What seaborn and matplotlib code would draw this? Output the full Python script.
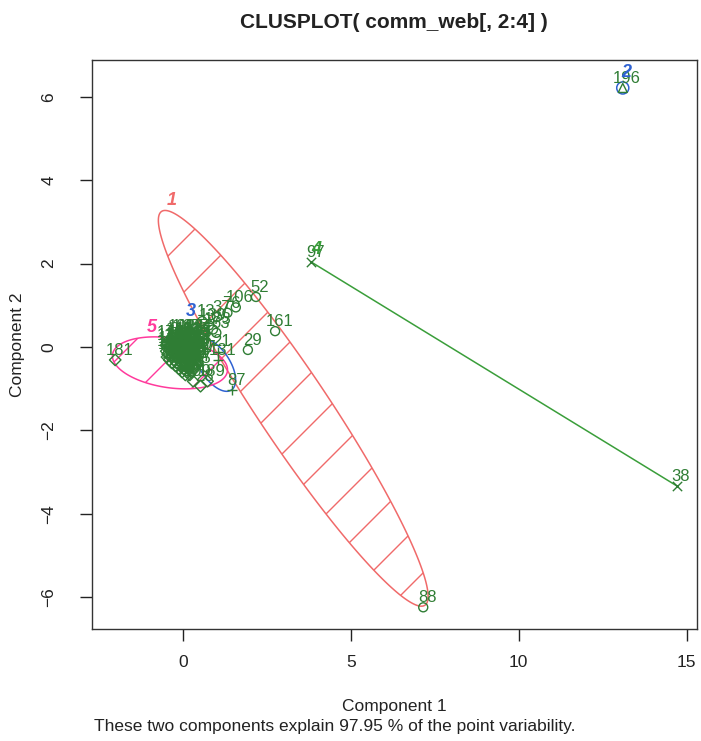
import numpy as np
import pandas as pd
import matplotlib
matplotlib.use('Agg')
import matplotlib.pyplot as plt
from matplotlib.patches import Polygon, Ellipse
import seaborn as sns

# points that stand apart from the central mass (label, comp1, comp2, cluster)
pt_labels = ['196', '97', '38', '88', '181', '52', '161', '29', '87', '21', '131',
             '63', '13', '139', '173', '37', '76', '106', '109', '28', '189']
pt_x = [13.10, 3.82, 14.71, 7.16, -2.01, 2.18, 2.75, 1.94, 1.47, 1.04, 1.06,
        1.00, 0.58, 0.78, 0.90, 1.02, 1.33, 1.58, 0.31, 0.53, 0.74]
pt_y = [6.21, 2.04, -3.33, -6.24, -0.31, 1.20, 0.38, -0.07, -1.03, -0.11, -0.31,
        0.34, 0.62, 0.52, 0.42, 0.72, 0.82, 0.95, -0.82, -0.94, -0.82]
pt_clus = [2, 4, 4, 1, 5, 1, 1, 1, 3, 3, 3,
           1, 1, 1, 1, 1, 1, 1, 5, 5, 5]

# the dense mass around the origin, row by row
blob_y = [0.25, 0.18, 0.11, 0.04, -0.03, -0.10, -0.17, -0.24, -0.31, -0.38,
          -0.45, -0.52, -0.60, -0.67]
blob_x = [
    [-0.30, -0.15, 0.00, 0.12, 0.25, 0.38],
    [-0.40, -0.22, -0.08, 0.05, 0.18, 0.30, 0.44],
    [-0.48, -0.33, -0.19, -0.04, 0.09, 0.21, 0.35, 0.47],
    [-0.50, -0.37, -0.25, -0.12, 0.01, 0.14, 0.27, 0.40],
    [-0.46, -0.31, -0.17, -0.06, 0.07, 0.19, 0.33, 0.45],
    [-0.49, -0.36, -0.22, -0.10, 0.03, 0.16, 0.29, 0.42],
    [-0.45, -0.30, -0.18, -0.05, 0.08, 0.22, 0.36],
    [-0.47, -0.34, -0.20, -0.07, 0.06, 0.19, 0.32, 0.46],
    [-0.40, -0.26, -0.13, 0.00, 0.13, 0.27, 0.40],
    [-0.33, -0.19, -0.05, 0.09, 0.23, 0.37],
    [-0.22, -0.08, 0.06, 0.20, 0.34],
    [-0.12, 0.03, 0.17, 0.31],
    [-0.02, 0.12, 0.26],
    [0.08, 0.21],
]
blob_c = ["555511", "5555111", "55555113", "55555133", "55555533", "55555533",
          "5555553", "55555533", "5555553", "555555", "55555", "5555", "555", "55"]
blob_labels = ("1 102 3 114 5 127 8 140 10 151 12 164 15 170 17 183 19 192 22 105 "
               "24 118 26 130 31 143 33 155 35 166 39 177 41 186 43 194 45 108 47 120 "
               "49 133 51 146 54 158 56 168 58 179 60 190 62 104 65 116 67 125 69 137 "
               "71 149 73 160 75 171 78 184 80 195 82 101 84 122 86 135 89 147 91 157 "
               "93 175 95 180 98 187 99").split()

# cluster labels
clus_names = ['1', '2', '3', '4', '5']
clus_lx = [-0.32, 13.19, 0.25, 3.97, -0.91]
clus_ly = [3.50, 6.59, 0.84, 2.33, 0.46]

# spanning ellipses: centre and two conjugate semi-axes (data units)
ell_clus = [1, 3, 5]
ell_center = [(3.29, -1.47), (0.96, -0.43), (-0.38, -0.38)]
ell_a = [(3.92, -4.72), (0.49, -0.60), (1.71, -0.20)]
ell_b = [(0.87, 0.47), (0.37, 0.20), (-0.10, -0.59)]
ell_shade = [True, False, True]

GREEN = '#2f7d34'
LINE_GREEN = '#3a9e3a'
RED = '#f06a6a'
BLUE = '#2f62d2'
PINK = '#ff3a9c'
clus_color = {1: RED, 2: BLUE, 3: BLUE, 4: LINE_GREEN, 5: PINK}
clus_marker = {1: 'o', 2: '^', 3: '+', 4: 'x', 5: 'D'}

# build one table of all points
bx, by, bc = [], [], []
for yv, xs, cs in zip(blob_y, blob_x, blob_c):
    for xv, cv in zip(xs, cs):
        bx.append(xv)
        by.append(yv)
        bc.append(int(cv))
df = pd.DataFrame({
    'x': pt_x + bx,
    'y': pt_y + by,
    'label': pt_labels + blob_labels,
    'cluster': pt_clus + bc,
})

sns.set_theme(style='ticks')
plt.rcParams['font.family'] = ['Liberation Sans', 'DejaVu Sans']

W, H = 701, 741
fig = plt.figure(figsize=(W / 100, H / 100), dpi=100)
ax = fig.add_axes([91.7 / W, 1 - 629 / H, (697 - 91.7) / W, (629 - 60) / H])
ax.set_xlim(-2.71, 15.31)
ax.set_ylim(-6.76, 6.88)

# ellipses with R-style shading lines
T = ax.transData
t = np.linspace(0, 2 * np.pi, 300)
for c, cen, a, b, shade in zip(ell_clus, ell_center, ell_a, ell_b, ell_shade):
    ex = cen[0] + a[0] * np.cos(t) + b[0] * np.sin(t)
    ey = cen[1] + a[1] * np.cos(t) + b[1] * np.sin(t)
    patch = Polygon(np.column_stack([ex, ey]), closed=True, fill=False,
                    ec=clus_color[c], lw=1.1, zorder=2)
    ax.add_patch(patch)
    if shade:
        disp = T.transform(np.column_stack([ex, ey]))
        s = disp[:, 0] - disp[:, 1]
        x0, x1 = disp[:, 0].min() - 20, disp[:, 0].max() + 20
        k0 = int(np.floor((s.min() + 317) / 52))
        k1 = int(np.ceil((s.max() + 317) / 52))
        for k in range(k0, k1 + 1):
            C = -317 + 52 * k
            seg = np.array([[x0, x0 - C], [x1, x1 - C]])
            dseg = T.inverted().transform(seg)
            ln, = ax.plot(dseg[:, 0], dseg[:, 1], color=clus_color[c], lw=1.0, zorder=2)
            ln.set_clip_path(patch)

# single-point cluster 2 and two-point cluster 4
p2 = df[df.cluster == 2].iloc[0]
ax.add_patch(Ellipse((p2.x, p2.y), 0.36, 0.29, fill=False, ec=BLUE, lw=1.1, zorder=2))
p4 = df[df.cluster == 4]
ax.plot(p4.x, p4.y, color=LINE_GREEN, lw=1.1, zorder=2)

# point markers
for c, m in clus_marker.items():
    sub = df[df.cluster == c]
    if m in ('+', 'x'):
        sns.scatterplot(data=sub, x='x', y='y', marker=m, color=GREEN, s=45,
                        linewidth=1.0, ax=ax, zorder=3)
    else:
        sns.scatterplot(data=sub, x='x', y='y', marker=m, facecolor='none',
                        edgecolor=GREEN, s=42 if m != 'D' else 34, linewidth=1.0,
                        ax=ax, zorder=3)

# point labels
for _, r in df.iterrows():
    ax.annotate(r.label, (r.x, r.y), xytext=(3, 7), textcoords='offset points',
                ha='center', va='center', fontsize=12, color=GREEN, zorder=4)

# cluster labels
for name, lx, ly in zip(clus_names, clus_lx, clus_ly):
    ax.text(lx, ly, name, color=clus_color[int(name)], fontsize=13, fontweight='bold',
            fontstyle='italic', ha='center', va='center', zorder=5)

ax.set_xticks([0, 5, 10, 15])
ax.set_yticks([-6, -4, -2, 0, 2, 4, 6])
ax.set_xlabel('')
ax.set_ylabel('')
ax.tick_params(direction='out', length=8.4, width=1, colors='#222', labelsize=12.5)
ax.tick_params(axis='x', pad=10)
ax.tick_params(axis='y', pad=17)
for lbl in ax.get_yticklabels():
    lbl.set_rotation(90)
    lbl.set_va('center')
for sp in ax.spines.values():
    sp.set_visible(True)
    sp.set_linewidth(1.0)
    sp.set_color('#333')

xc = (91.7 + 697) / 2 / W
fig.text(xc, 1 - 22 / H, 'CLUSPLOT( comm_web[, 2:4] )', ha='center', va='center',
         fontsize=15, fontweight='bold', color='#222')
fig.text(xc, 1 - 707 / H, 'Component 1', ha='center', va='center', fontsize=12.5,
         color='#222')
fig.text(334.5 / W, 1 - 727 / H,
         'These two components explain 97.95 % of the point variability.',
         ha='center', va='center', fontsize=12.5, color='#222')
fig.text(18 / W, 1 - 345 / H, 'Component 2', rotation=90, ha='center', va='center',
         fontsize=12.5, color='#222')

fig.savefig('out.png', dpi=100)
